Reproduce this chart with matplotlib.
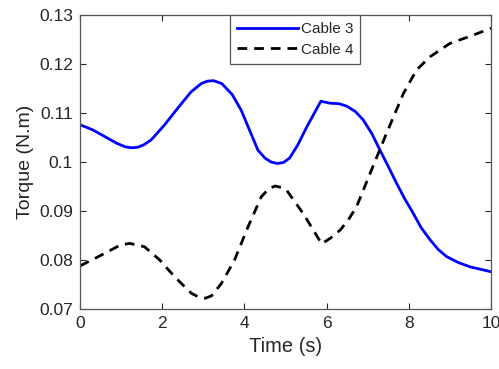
import matplotlib
matplotlib.use("Agg")
import matplotlib.pyplot as plt

# values
t3 = [0, 0.3, 0.6, 0.9, 1.1, 1.25, 1.4, 1.55, 1.73, 2.05, 2.38, 2.7, 2.95, 3.1, 3.25, 3.45, 3.7, 3.92, 4.15,
      4.33, 4.5, 4.65, 4.8, 4.95, 5.1, 5.3, 5.52, 5.86, 6.08, 6.3, 6.49, 6.7, 6.89, 7.1, 7.3, 7.5, 7.7, 7.9,
      8.11, 8.3, 8.52, 8.72, 8.92, 9.2, 9.49, 9.75, 10]
cable3 = [0.1076, 0.1066, 0.1052, 0.1038, 0.1031, 0.1029, 0.1030, 0.1035, 0.1045, 0.1075, 0.1110, 0.1143,
          0.1160, 0.1165, 0.1166, 0.1160, 0.1138, 0.1106, 0.1060, 0.1024, 0.1008, 0.1000, 0.0997, 0.0999,
          0.1008, 0.1035, 0.1072, 0.1124, 0.1120, 0.1119, 0.1114, 0.1103, 0.1086, 0.1058, 0.1024, 0.0991,
          0.0957, 0.0925, 0.0895, 0.0866, 0.0841, 0.0821, 0.0807, 0.0795, 0.0786, 0.0781, 0.0776]

t4 = [0, 0.45, 0.97, 1.2, 1.57, 1.94, 2.3, 2.71, 2.9, 3.05, 3.2, 3.44, 3.76, 4.09, 4.41, 4.6, 4.75, 4.9,
      5.03, 5.43, 5.88, 6.1, 6.33, 6.53, 6.73, 7.06, 7.46, 7.87, 8.19, 8.52, 9.0, 9.57, 10]
cable4 = [0.0788, 0.0807, 0.0830, 0.0834, 0.0827, 0.0800, 0.0766, 0.0732, 0.0724, 0.0722, 0.0727, 0.0752,
          0.0800, 0.0868, 0.0929, 0.0946, 0.0951, 0.0948, 0.0942, 0.0895, 0.0833, 0.0845, 0.0861, 0.0882,
          0.0909, 0.0977, 0.1059, 0.1140, 0.1188, 0.1215, 0.1242, 0.1259, 0.1273]

xticks = [0, 2, 4, 6, 8, 10]
yticks = [0.07, 0.08, 0.09, 0.1, 0.11, 0.12, 0.13]
ytick_labels = ['0.07', '0.08', '0.09', '0.1', '0.11', '0.12', '0.13']

plt.rcParams['font.family'] = ['Liberation Sans', 'DejaVu Sans']
grey = '#262626'

fig = plt.figure(figsize=(4.99, 3.69), dpi=100)
ax = fig.add_axes([80/499, 1 - 309/369, 411/499, 294/369])

ax.plot(t3, cable3, color='#0000ff', lw=2, label='Cable 3')
ax.plot(t4, cable4, color='black', lw=2, ls=(0, (3.5, 2.5)), label='Cable 4')

ax.set_xlim(0, 10)
ax.set_ylim(0.07, 0.13)
ax.set_xticks(xticks)
ax.set_yticks(yticks)
ax.set_yticklabels(ytick_labels)
ax.tick_params(direction='in', top=True, right=True, length=4, width=0.8,
               colors=grey, labelsize=12.5, labelcolor=grey, pad=5)
for s in ax.spines.values():
    s.set_color('#555555')
    s.set_linewidth(0.9)

ax.set_xlabel('Time (s)', fontsize=14.5, color=grey, labelpad=4)
ax.set_ylabel('Torque (N.m)', fontsize=14, color=grey, labelpad=4)

leg = ax.legend(loc='upper left', bbox_to_anchor=(0.365, 1.0), fontsize=11,
                handlelength=4.0, handletextpad=0.2, borderpad=0.45, labelspacing=0.45,
                fancybox=False, framealpha=1, borderaxespad=0)
leg.get_frame().set_edgecolor('#555555')
leg.get_frame().set_linewidth(0.9)
for txt in leg.get_texts():
    txt.set_color(grey)

fig.savefig('out.png', dpi=100)
